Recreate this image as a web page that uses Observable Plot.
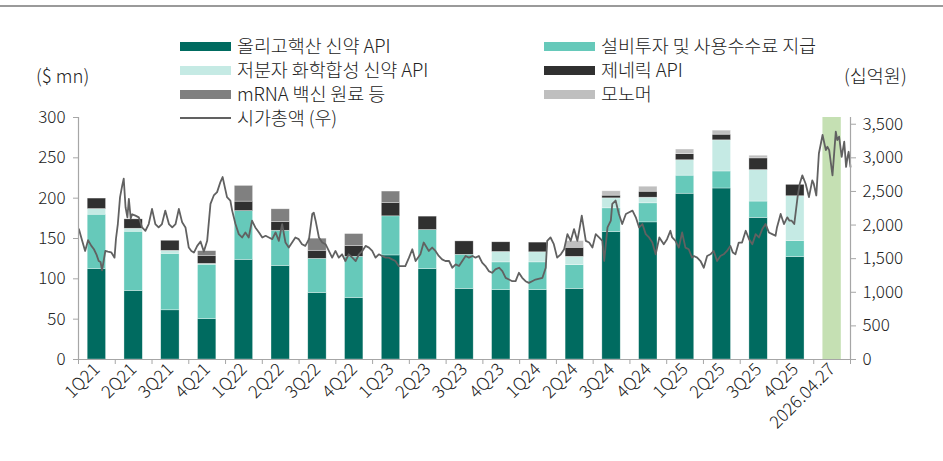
<!DOCTYPE html>
<html>
<head>
<meta charset="utf-8">
<script src="https://cdn.jsdelivr.net/npm/d3@7"></script>
<script src="https://cdn.jsdelivr.net/npm/@observablehq/plot@0.6"></script>
<style>
  html, body { margin: 0; padding: 0; background: #fff; }
  #wrap { position: relative; width: 943px; height: 461px; overflow: hidden;
          font-family: "Noto Sans CJK KR", "Noto Sans", sans-serif; font-weight: 300; color: #222; }
  #topline { position: absolute; left: 0; top: 5px; width: 943px; height: 2px; background: #9a9a9a; }
  .lg { position: absolute; font-size: 18.5px; line-height: 19px; height: 19px; white-space: nowrap; letter-spacing: -0.1px; }
  .sw { position: absolute; width: 51px; height: 9px; }
  .swl { position: absolute; width: 51px; height: 2px; }
  .unit { position: absolute; font-size: 18.5px; line-height: 19px; white-space: nowrap; }
  #chart { position: absolute; left: 0; top: 0; }
  #chart svg text { font-weight: 300; }
</style>
</head>
<body>
<div id="wrap">
  <div id="topline"></div>
  <div id="chart"></div>
  <div id="legend"></div>
</div>
<script>
// ---- data ----
const quarters = ["1Q21","2Q21","3Q21","4Q21","1Q22","2Q22","3Q22","4Q22","1Q23","2Q23","3Q23","4Q23","1Q24","2Q24","3Q24","4Q24","1Q25","2Q25","3Q25","4Q25","2026.04.27"];
const seriesNames = ["올리고핵산 신약 API","설비투자 및 사용수수료 지급","저분자 화학합성 신약 API","제네릭 API","mRNA 백신 원료 등","모노머"];
const oligo   = [112,85,61,50,123.5,116,82.5,76.3,129,112,87.5,86,86,87.5,158,170,205.5,212,175.5,127];
const capex   = [67.5,73.4,70,67.5,60.5,43.6,42.3,51,48.5,48.5,42.3,34.4,34.4,29.4,29.4,23.6,22.4,21.1,20.3,19.9];
const smallMol= [7,3.7,3.7,1,0,0,0,0,0,0,0,12.9,12.5,10.4,12.4,7,19.1,38.6,39,55.5];
const generic = [13,11.6,12.5,10,11.7,10.8,10,13.2,16.6,16.6,16.6,12,12,11.2,3.3,7.4,7.5,7,14.5,14.1];
const mrna    = [0,0,0,5.8,19.5,15.8,15,15,14.1,0,0,0,0,0,0,0,0,0,0,0];
const monomer = [0,0,0,0,0,0,0,0,0,0,0,0,0,8.3,5.4,6.2,5.8,5,3.3,0];
const colors  = ["#006b60","#66c9ba","#c5eae4","#303030","#808080","#bfbfbf"];
const highlightLabel = "2026.04.27";
const leftTicks  = [0,50,100,150,200,250,300];
const rightTicks = [0,500,1000,1500,2000,2500,3000,3500];
const rightMax = 3600;
// market cap (십억원); position in quarters since 1Q21 start
const capPos = [0.01,0.1,0.18,0.26,0.35,0.42,0.49,0.55,0.6,0.64,0.73,0.8,0.89,0.98,1.02,1.07,1.13,1.19,1.23,1.28,1.33,1.37,1.42,1.46,1.55,1.64,1.73,1.82,1.91,2.0,2.09,2.18,2.27,2.36,2.46,2.55,2.64,2.73,2.82,2.91,3.0,3.07,3.14,3.23,3.32,3.41,3.5,3.59,3.68,3.77,3.86,3.92,3.98,4.04,4.13,4.18,4.27,4.36,4.45,4.54,4.63,4.72,4.81,4.91,5.0,5.09,5.18,5.27,5.36,5.45,5.54,5.63,5.72,5.81,5.9,5.99,6.08,6.17,6.27,6.36,6.4,6.45,6.54,6.63,6.72,6.81,6.9,6.99,7.08,7.17,7.26,7.35,7.45,7.54,7.63,7.72,7.81,7.9,7.99,8.08,8.17,8.26,8.35,8.44,8.53,8.62,8.71,8.8,8.89,8.99,9.08,9.17,9.3,9.39,9.53,9.62,9.71,9.8,9.89,9.98,10.08,10.17,10.26,10.35,10.44,10.53,10.62,10.72,10.8,10.89,10.98,11.07,11.16,11.25,11.34,11.44,11.53,11.62,11.71,11.8,11.89,11.98,12.07,12.16,12.25,12.34,12.43,12.62,12.71,12.75,12.84,12.93,13.02,13.12,13.21,13.3,13.39,13.48,13.57,13.62,13.69,13.8,13.89,13.98,14.07,14.16,14.25,14.3,14.39,14.48,14.52,14.61,14.7,14.79,14.89,14.98,15.07,15.16,15.25,15.34,15.43,15.52,15.61,15.7,15.8,15.92,16.01,16.1,16.15,16.24,16.33,16.42,16.51,16.6,16.69,16.74,16.83,16.92,17.01,17.1,17.19,17.28,17.37,17.46,17.55,17.64,17.73,17.8,17.87,17.96,18.05,18.15,18.24,18.33,18.42,18.51,18.6,18.69,18.78,18.87,18.96,19.0,19.1,19.19,19.28,19.34,19.4,19.47,19.56,19.62,19.69,19.78,19.87,19.96,20.0,20.07,20.14,20.24,20.33,20.37,20.42,20.51,20.6,20.64,20.69,20.76,20.83,20.88,20.92,20.95,21.0];
const capValue = [1940,1765,1615,1775,1690,1640,1560,1465,1450,1325,1615,1605,1595,1515,1800,2015,2415,2590,2690,2265,2115,2390,2100,2160,2140,2115,1965,1915,2015,2240,2015,1965,2015,2215,2015,1965,2015,2240,2040,1965,1665,1615,1590,1690,1755,1605,1765,2315,2440,2490,2640,2715,2565,2415,2365,2215,2015,1865,1815,1890,1815,2065,1965,1890,1815,1840,1815,1790,1890,1765,2015,1740,1665,1740,1815,1790,1715,1690,1790,2165,2185,2065,1815,1740,1715,1615,1515,1615,1515,1565,1465,1565,1515,1465,1565,1615,1690,1665,1615,1515,1565,1540,1515,1515,1490,1465,1390,1390,1390,1515,1640,1465,1565,1740,1615,1665,1615,1540,1490,1465,1465,1365,1415,1390,1465,1540,1515,1540,1515,1540,1440,1390,1315,1290,1340,1365,1315,1215,1190,1165,1165,1290,1215,1165,1140,1165,1190,1215,1365,1765,1815,1715,1515,1565,1640,1865,1765,1940,1765,1915,2140,1765,1740,1665,1865,1815,1765,1465,1965,2065,2315,2365,2165,2015,2165,2190,2215,2115,1965,2015,1865,1815,1740,1565,1815,1715,1790,1915,1815,1765,1665,1890,1665,1640,1515,1540,1515,1465,1365,1540,1565,1615,1465,1540,1565,1615,1690,1590,1565,1740,1740,1915,1790,1715,1865,1815,1940,2015,1890,1865,1840,1965,2165,2015,2115,2065,2065,2015,2415,2615,2740,2615,2415,2665,2615,2440,3065,3340,3115,3165,3115,2740,3390,3265,3315,3015,3240,2865,3015,3090,2865,3065,3525];

// ---- derived tables ----
const stacks = [oligo, capex, smallMol, generic, mrna, monomer];
const bars = [];
oligo.forEach((_, i) => {
  let acc = 0;
  stacks.forEach((s, k) => {
    const v = s[i];
    if (v > 0) bars.push({i, q: quarters[i], series: seriesNames[k], k, y1: acc, y2: acc + v});
    acc += v;
  });
});
const k = 300 / rightMax;
const cap = capPos.map((t, j) => ({t, v: capValue[j] * k}));
const hiIndex = quarters.indexOf(highlightLabel);
const boundaries = d3.range(0, quarters.length + 1);
const centers = quarters.map((_, i) => i + 0.5);
const axisColor = "#a6a6a6";

const chart = Plot.plot({
  width: 943,
  height: 461,
  marginTop: 117,
  marginBottom: 102,
  marginLeft: 78,
  marginRight: 93,
  style: {fontFamily: "'Noto Sans CJK KR', 'Noto Sans', sans-serif", fontSize: "16px", color: "#222", background: "transparent"},
  x: {type: "linear", domain: [0, quarters.length], axis: null},
  y: {domain: [0, 300], axis: null},
  color: {domain: seriesNames, range: colors},
  marks: [
    Plot.rectY([hiIndex], {x1: d => d, x2: d => d + 1, y1: 0, y2: 300, fill: "#c5e0b3", insetLeft: 9.2, insetRight: 9.2}),
    Plot.rectY(bars, {x1: "i", x2: d => d.i + 1, y1: "y1", y2: "y2", fill: "series", insetLeft: 9.2, insetRight: 9.2, stroke: "#ffffff", strokeOpacity: 0.55, strokeWidth: 0.6}),
    Plot.line(cap, {x: "t", y: "v", stroke: "#616161", strokeWidth: 1.8, strokeLinejoin: "round"}),
    Plot.ruleX([0], {y1: 0, y2: 300, stroke: axisColor, strokeWidth: 1.2}),
    Plot.ruleX([quarters.length], {y1: 0, y2: 300, stroke: axisColor, strokeWidth: 1.2}),
    Plot.ruleY([0], {stroke: axisColor, strokeWidth: 1.2}),
    Plot.axisY(leftTicks, {anchor: "left", tickSize: 5, tickPadding: 8, stroke: axisColor, fill: "#222", fontSize: 17, tickFormat: d => d}),
    Plot.axisY(rightTicks.map(v => v * k), {anchor: "right", tickSize: 5, tickPadding: 7, stroke: axisColor, fill: "#222", fontSize: 17, tickFormat: d => d3.format(",")(Math.round(d / k))}),
    Plot.axisX(boundaries, {anchor: "bottom", tickSize: 5, stroke: axisColor, tickFormat: () => ""}),
    Plot.axisX(centers, {anchor: "bottom", tickSize: 0, tickPadding: 7, tickRotate: -45, fill: "#222", fontSize: 17.5, tickFormat: d => quarters[Math.floor(d)]})
  ]
});
document.getElementById("chart").appendChild(chart);

// ---- legend (HTML) ----
const legend = document.getElementById("legend");
const legendItems = [
  {label: seriesNames[0], color: colors[0], col: 0, row: 0},
  {label: seriesNames[1], color: colors[1], col: 1, row: 0},
  {label: seriesNames[2], color: colors[2], col: 0, row: 1},
  {label: seriesNames[3], color: colors[3], col: 1, row: 1},
  {label: seriesNames[4], color: colors[4], col: 0, row: 2},
  {label: seriesNames[5], color: colors[5], col: 1, row: 2},
  {label: "시가총액 (우)", color: "#616161", col: 0, row: 3, line: true}
];
const colX = [180, 544];
const rowY = [46, 70, 94, 118];
legendItems.forEach(it => {
  const sw = document.createElement("div");
  sw.className = it.line ? "swl" : "sw";
  sw.style.background = it.color;
  sw.style.left = colX[it.col] + "px";
  sw.style.top = (rowY[it.row] - (it.line ? 1 : 4.5)) + "px";
  legend.appendChild(sw);
  const tx = document.createElement("div");
  tx.className = "lg";
  tx.textContent = it.label;
  tx.style.left = (colX[it.col] + 57) + "px";
  tx.style.top = (rowY[it.row] - 10) + "px";
  legend.appendChild(tx);
});
const u1 = document.createElement("div");
u1.className = "unit"; u1.textContent = "($ mn)"; u1.style.left = "36px"; u1.style.top = "66px";
legend.appendChild(u1);
const u2 = document.createElement("div");
u2.className = "unit"; u2.textContent = "(십억원)"; u2.style.left = "844px"; u2.style.top = "66px";
legend.appendChild(u2);
</script>
</body>
</html>
